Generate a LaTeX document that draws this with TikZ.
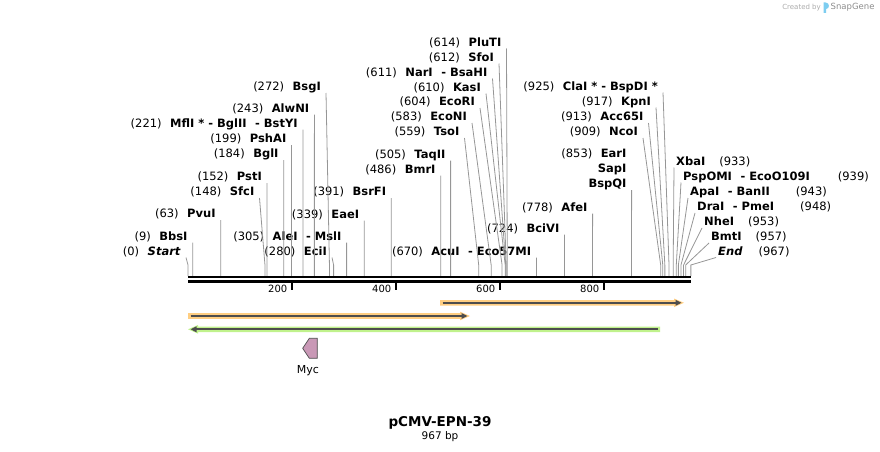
\documentclass[tikz,border=0pt]{standalone}
\usepackage{fontspec}
\setmainfont{DejaVu Sans}
\usetikzlibrary{positioning, arrows.meta}

\newcommand{\lgap}{\hspace{8.5pt}}
\definecolor{cutgray}{RGB}{150,150,150}
\definecolor{featorange}{RGB}{255,206,130}
\definecolor{featgreen}{RGB}{192,242,140}
\definecolor{featdark}{RGB}{77,77,77}
\definecolor{mycpink}{RGB}{201,152,182}
\definecolor{logoblue}{RGB}{125,205,240}

\begin{document}
\begin{tikzpicture}[
    x=1pt, y=-1pt,
    labfont/.style={font=\fontsize{11.5}{15}\selectfont, inner sep=0pt},
    site/.style={labfont, text height=8.4pt, text depth=2pt},
    lsite/.style={site, anchor=south east},
    rsite/.style={site, anchor=south west},
    cut/.style={draw=cutgray, line width=0.8pt},
    backbone/.style={draw=black, line width=2.6pt, double=white, double distance=1.7pt},
    tick/.style={draw=black, line width=1.8pt},
    ruler/.style={font=\fontsize{10}{12}\selectfont, inner sep=0pt, anchor=east},
    featline/.style={draw=featdark, line width=1.8pt},
    tip/.style={-{Triangle[length=6pt, width=5.5pt]}}
]
    \useasboundingbox (0,0) rectangle (880,452);

    % Sites on the backbone
    \foreach \n/\bp in {start/0, bbsi/9, pvui/63, sfci/148, psti/152, bgli/184, pshai/199,
        mfli/221, alwni/243, bsgi/272, ecii/280, alei/305, eaei/339, bsrfi/391, bmri/486,
        taqii/505, tsoi/559, econi/583, ecori/604, kasi/610, nari/611, sfoi/612, pluti/614,
        acui/670, bcivi/724, afei/778, eari/853, ncoi/909, acci/913, kpni/917, clai/925,
        xbai/933, pspomi/939, apai/943, drai/948, nhei/953, bmti/957, end/967}
        \coordinate (c\n) at ({188+0.52*\bp},276);

    % Labels left of their line
    \node[lsite] (start) at (181,257.5) {(0)\lgap\textbf{\textit{Start}}};
    \node[lsite] (bbsi) at (187.7,242.5) {(9)\lgap\textbf{BbsI}};
    \node[lsite] (pvui) at (215.8,220) {(63)\lgap\textbf{PvuI}};
    \node[lsite] (sfci) at (254.5,198) {(148)\lgap\textbf{SfcI}};
    \node[lsite] (psti) at (262,183) {(152)\lgap\textbf{PstI}};
    \node[lsite] (bgli) at (278.7,160) {(184)\lgap\textbf{BglI}};
    \node[lsite] (pshai) at (286.5,145) {(199)\lgap\textbf{PshAI}};
    \node[lsite] (mfli) at (297.9,129.5) {(221)\lgap\textbf{MflI * - BglII\lgap- BstYI}};
    \node[lsite] (alwni) at (309.4,114.5) {(243)\lgap\textbf{AlwNI}};
    \node[lsite] (bsgi) at (321,93) {(272)\lgap\textbf{BsgI}};
    \node[lsite] (ecii) at (327,257.5) {(280)\lgap\textbf{EciI}};
    \node[lsite] (alei) at (341.6,242.5) {(305)\lgap\textbf{AleI\lgap- MslI}};
    \node[lsite] (eaei) at (359.3,220.5) {(339)\lgap\textbf{EaeI}};
    \node[lsite] (bsrfi) at (386.3,198) {(391)\lgap\textbf{BsrFI}};
    \node[lsite] (bmri) at (435.7,175.5) {(486)\lgap\textbf{BmrI}};
    \node[lsite] (taqii) at (445.6,160.5) {(505)\lgap\textbf{TaqII}};
    \node[lsite] (tsoi) at (459.5,138) {(559)\lgap\textbf{TsoI}};
    \node[lsite] (econi) at (467,123) {(583)\lgap\textbf{EcoNI}};
    \node[lsite] (ecori) at (475,108) {(604)\lgap\textbf{EcoRI}};
    \node[lsite] (kasi) at (481,93.5) {(610)\lgap\textbf{KasI}};
    \node[lsite] (nari) at (487.5,78.5) {(611)\lgap\textbf{NarI\lgap- BsaHI}};
    \node[lsite] (sfoi) at (494,63.5) {(612)\lgap\textbf{SfoI}};
    \node[lsite] (pluti) at (501.5,48.5) {(614)\lgap\textbf{PluTI}};
    \node[lsite] (acui) at (531.4,257.5) {(670)\lgap\textbf{AcuI\lgap- Eco57MI}};
    \node[lsite] (bcivi) at (559.5,234.5) {(724)\lgap\textbf{BciVI}};
    \node[lsite] (afei) at (587.6,213.5) {(778)\lgap\textbf{AfeI}};
    \node[labfont, anchor=south east, align=right] (eari) at (626.6,190) {(853)\lgap\textbf{EarI}\\\textbf{SapI}\\\textbf{BspQI}};
    \node[lsite] (ncoi) at (638,138) {(909)\lgap\textbf{NcoI}};
    \node[lsite] (acci) at (643.5,123) {(913)\lgap\textbf{Acc65I}};
    \node[lsite] (kpni) at (651,107.5) {(917)\lgap\textbf{KpnI}};
    \node[lsite] (clai) at (658,92.5) {(925)\lgap\textbf{ClaI * - BspDI *}};

    % Labels right of their line
    \node[rsite] (xbai) at (676,167.5) {\textbf{XbaI}\hspace{14pt}(933)};
    \node[rsite] (pspomi) at (683,182.5) {\textbf{PspOMI\lgap- EcoO109I}\hspace{28pt}(939)};
    \node[rsite] (apai) at (690,198) {\textbf{ApaI\lgap- BanII}\hspace{26pt}(943)};
    \node[rsite] (drai) at (697,213) {\textbf{DraI\lgap- PmeI}\hspace{26pt}(948)};
    \node[rsite] (nhei) at (704,228) {\textbf{NheI}\hspace{14pt}(953)};
    \node[rsite] (bmti) at (711,243) {\textbf{BmtI}\hspace{14pt}(957)};
    \node[rsite] (end) at (718,257.5) {\textbf{\textit{End}}\hspace{16pt}(967)};

    % Cut lines
    \foreach \n in {start, bbsi, pvui, sfci, psti, bgli, pshai, mfli, alwni, bsgi, ecii, alei,
        eaei, bsrfi, bmri, taqii, tsoi, econi, ecori, kasi, nari, sfoi, pluti, acui, bcivi,
        afei, eari, ncoi, acci, kpni, clai}
        \draw[cut] ([xshift=5pt]\n.south east) -- ([yshift=11pt]c\n) -- (c\n);
    \foreach \n in {xbai, pspomi, apai, drai, nhei, bmti, end}
        \draw[cut] ([xshift=-2pt]\n.south west) -- ([yshift=11pt]c\n) -- (c\n);

    % Backbone and ruler
    \coordinate (bbl) at (188,279.2);
    \coordinate (bbr) at (691,279.2);
    \draw[backbone] (bbl) -- (bbr);
    \foreach \t in {200,400,600,800} {
        \coordinate (t\t) at ({188+0.52*\t},282);
        \draw[tick] (t\t) -- ++(0,7.5);
        \node[ruler] (n\t) at ([xshift=-4.5pt, yshift=-6.5pt]t\t) {\t};
    }

    % Features
    \fill[featorange] (440,300) -- (674,300) -- (674,298.5) -- (684,302.8) -- (674,307.1) -- (674,305.6) -- (440,305.6) -- cycle;
    \draw[featline, tip] (442.5,302.8) -- (681.5,302.8);
    \fill[featorange] (188,313.2) -- (460,313.2) -- (460,311.7) -- (470,316) -- (460,320.3) -- (460,318.8) -- (188,318.8) -- cycle;
    \draw[featline, tip] (190.5,316) -- (467.5,316);
    \fill[featgreen] (660,326.5) -- (198,326.5) -- (198,325) -- (188,329.3) -- (198,333.6) -- (198,332.1) -- (660,332.1) -- cycle;
    \draw[featline, tip] (657.5,329.3) -- (190.5,329.3);

    % Myc
    \filldraw[fill=mycpink, draw=featdark, line width=0.7pt] (317.3,338.3) -- (309.3,338.3) -- (302.7,348.3) -- (309.3,358.3) -- (317.3,358.3) -- cycle;
    \node[labfont, font=\fontsize{11}{13}\selectfont] (myc) at (308,371) {Myc};

    % Title
    \node[inner sep=0pt, text height=10pt, text depth=3pt, font=\fontsize{13.5}{16}\selectfont\bfseries] (title) at (440,423.2) {pCMV-EPN-39};
    \node[inner sep=0pt, text height=8pt, text depth=2pt, font=\fontsize{10.5}{12}\selectfont, below=1.3pt of title] (size) {967 bp};

    % Credit
    \node[inner sep=0pt, anchor=east, text=black!33, font=\fontsize{7}{8}\selectfont] (credit) at (821,7.5) {Created by};
    \fill[logoblue] (823.5,2.5) -- (825.5,2.5) .. controls (830,2.5) and (830,9) .. (826,9) -- (826,13) -- (823.5,13) -- cycle;
    \node[inner sep=0pt, anchor=west, text=black!45, font=\fontsize{8.5}{10}\selectfont] (snapgene) at (830.5,7.5) {SnapGene};

\end{tikzpicture}
\end{document}
